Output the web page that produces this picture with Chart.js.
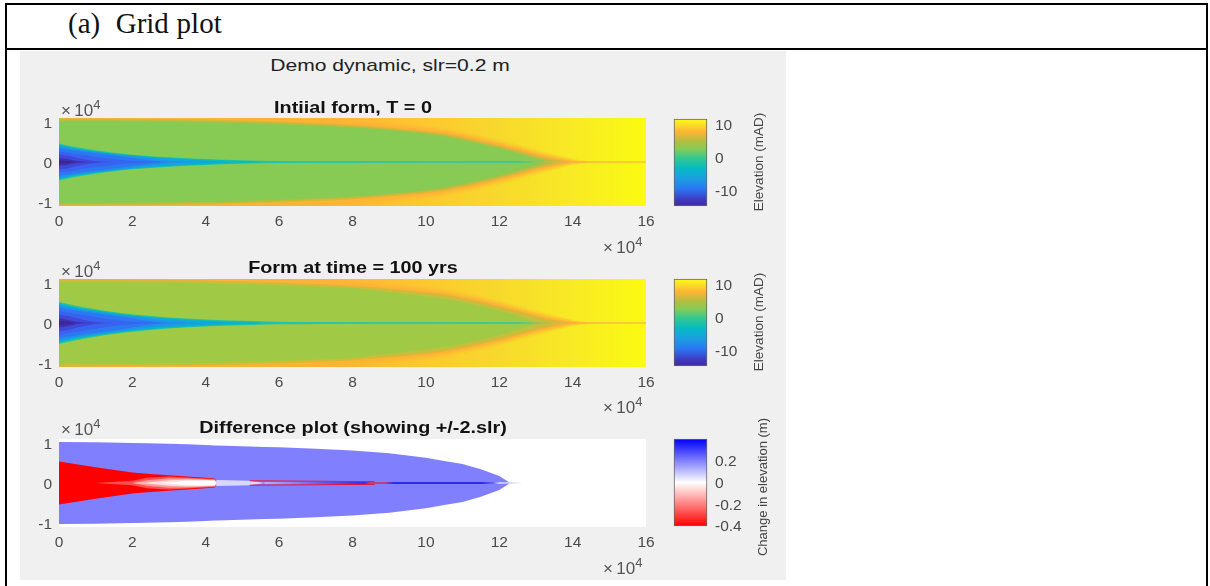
<!DOCTYPE html>
<html>
<head>
<meta charset="utf-8">
<title>Grid plot</title>
<script src="https://cdn.jsdelivr.net/npm/chart.js@4/dist/chart.umd.min.js"></script>
<style>
    html, body { margin: 0; background: #fff; overflow: hidden; }
    body { width: 1210px; height: 586px; position: relative; font-family: 'Liberation Sans', sans-serif; }
    .rule { position: absolute; background: #000; }
    .figure { position: absolute; left: 20px; top: 51px; width: 766px; height: 529px; background: #f0f0f0; }
    canvas { filter: blur(0.45px); }
    .holder { position: absolute; }
    .caption { position: absolute; left: 68px; top: 7px; font: 29px 'Liberation Serif', serif; word-spacing: .5px; color: #111; white-space: pre; }
    .main-title { position: absolute; left: 390px; top: 65.5px; font-size: 17px; color: #222; white-space: nowrap; transform: translate(-50%, -50%) scaleX(1.24); }
    .sub-title { position: absolute; left: 352.5px; font-size: 16.5px; font-weight: bold; color: #111; white-space: nowrap; transform: translate(-50%, -50%) scaleX(1.2); }
    .exp { position: absolute; font-size: 17px; color: #555; white-space: nowrap; }
    .exp sup { font-size: 13px; line-height: 0; }
    .side { position: absolute; font-size: 13.5px; color: #444; white-space: nowrap; transform: translate(-50%, -50%) rotate(-90deg); }
</style>
</head>
<body>
<div class="rule" style="left:5px;top:3px;width:1202px;height:2px"></div>
<div class="rule" style="left:5px;top:48px;width:1202px;height:2px"></div>
<div class="rule" style="left:5px;top:3px;width:2px;height:583px"></div>
<div class="rule" style="left:1206px;top:3px;width:2px;height:583px"></div>
<div class="figure"></div>
<div class="caption">(a)  Grid plot</div>
<div class="main-title">Demo dynamic, slr=0.2 m</div>

<div class="holder" style="left:20px;top:98px;width:640px;height:134px"><canvas id="form0"></canvas></div>
<div class="holder" style="left:20px;top:259px;width:640px;height:134px"><canvas id="form100"></canvas></div>
<div class="holder" style="left:20px;top:419px;width:640px;height:134px"><canvas id="diff"></canvas></div>
<div class="holder" style="left:670px;top:113px;width:80px;height:99px"><canvas id="bar0"></canvas></div>
<div class="holder" style="left:670px;top:273px;width:80px;height:99px"><canvas id="bar100"></canvas></div>
<div class="holder" style="left:670px;top:433px;width:80px;height:99px"><canvas id="barDiff"></canvas></div>

<div class="sub-title" style="top:106.5px">Intiial form, T = 0</div>
<div class="sub-title" style="top:266.5px">Form at time = 100 yrs</div>
<div class="sub-title" style="top:427px">Difference plot (showing +/-2.slr)</div>

<div class="exp" style="left:61px;top:101px">&times;&#8201;10<sup>4</sup></div>
<div class="exp" style="left:603px;top:238px">&times;&#8201;10<sup>4</sup></div>
<div class="exp" style="left:61px;top:262px">&times;&#8201;10<sup>4</sup></div>
<div class="exp" style="left:603px;top:398px">&times;&#8201;10<sup>4</sup></div>
<div class="exp" style="left:61px;top:420px">&times;&#8201;10<sup>4</sup></div>
<div class="exp" style="left:603px;top:559px">&times;&#8201;10<sup>4</sup></div>
<div class="side" style="left:758px;top:162px">Elevation (mAD)</div>
<div class="side" style="left:758px;top:322px">Elevation (mAD)</div>
<div class="side" style="left:762px;top:487px;font-size:13px">Change in elevation (m)</div>

<script>
// stations along the estuary (x 10^4 m). half widths are read as a fraction of the half plot height
const channelX = [0, 0.25, 0.5, 1, 1.5, 2, 3, 4, 5, 6, 7, 8, 10, 12, 13.2];
const chan1 = [.42, .375, .335, .265, .21, .167, .106, .068, .04, .022, .013, .009, .007, .006, 0];
const chan2 = [.40, .355, .315, .25, .195, .155, .095, .055, .025, .006, 0, 0, 0, 0, 0];
const chan3 = [.38, .335, .295, .235, .185, .145, .08, .03, 0, 0, 0, 0, 0, 0, 0];
const chan4 = [.36, .32, .28, .225, .175, .13, .03, 0, 0, 0, 0, 0, 0, 0, 0];
const chan5 = [.31, .28, .25, .20, .15, .09, 0, 0, 0, 0, 0, 0, 0, 0, 0];
const chan6 = [.24, .21, .18, .12, .06, .02, 0, 0, 0, 0, 0, 0, 0, 0, 0];
const chan7 = [.17, .14, .09, .02, 0, 0, 0, 0, 0, 0, 0, 0, 0, 0, 0];
const chan8 = [.09, .06, .02, 0, 0, 0, 0, 0, 0, 0, 0, 0, 0, 0, 0];
const chan9 = [.04, .02, 0, 0, 0, 0, 0, 0, 0, 0, 0, 0, 0, 0, 0];

const lateChan1 = [.48, .43, .385, .31, .25, .20, .125, .08, .05, .03, .02, .013, .009, .007, 0];
const lateChan2 = [.455, .405, .36, .29, .23, .18, .11, .065, .034, .012, 0, 0, 0, 0, 0];
const lateChan3 = [.43, .38, .335, .27, .215, .165, .09, .04, .005, 0, 0, 0, 0, 0, 0];
const lateChan4 = [.40, .355, .315, .25, .195, .145, .04, 0, 0, 0, 0, 0, 0, 0, 0];
const lateChan5 = [.35, .31, .28, .22, .165, .10, 0, 0, 0, 0, 0, 0, 0, 0, 0];
const lateChan6 = [.27, .235, .20, .13, .07, .025, 0, 0, 0, 0, 0, 0, 0, 0, 0];
const lateChan7 = [.19, .16, .10, .025, 0, 0, 0, 0, 0, 0, 0, 0, 0, 0, 0];
const lateChan8 = [.10, .07, .025, 0, 0, 0, 0, 0, 0, 0, 0, 0, 0, 0, 0];
const lateChan9 = [.045, .025, 0, 0, 0, 0, 0, 0, 0, 0, 0, 0, 0, 0, 0];

const bankX = [0, 2, 4, 5, 6, 7, 8, 9, 10, 10.5, 11, 11.5, 12, 12.5, 13, 13.5, 14, 14.5, 15, 15.5, 16];
const bankA = [.93, .925, .905, .885, .86, .825, .785, .72, .64, .58, .50, .41, .31, .20, .08, 0, 0, 0, 0, 0, 0];
const lateBankA = [.93, .925, .905, .885, .86, .83, .795, .70, .60, .545, .47, .38, .27, .16, .03, 0, 0, 0, 0, 0, 0];
const bankB = [.96, .955, .935, .915, .89, .855, .815, .75, .67, .615, .535, .445, .345, .235, .12, .03, 0, 0, 0, 0, 0];
const bankC = [1, .985, .965, .945, .92, .885, .845, .78, .70, .645, .57, .48, .38, .27, .155, .06, .005, 0, 0, 0, 0];
const bankD = [1, 1, 1, .985, .96, .925, .885, .82, .74, .685, .61, .52, .42, .31, .195, .10, .02, 0, 0, 0, 0];
const bankE = [1, 1, 1, 1, 1, 1, .92, .86, .78, .725, .65, .56, .46, .35, .24, .14, .05, 0, 0, 0, 0];
const bankF = [1, 1, 1, 1, 1, 1, 1, .91, .83, .78, .70, .61, .51, .40, .29, .18, .08, .01, 0, 0, 0];
const bankBase = [1, 1, 1, 1, 1, 1, 1, 1, 1, 1, 1, 1, 1, 1, 1, 1, 1, 1, 1, 1, 1];

const diffX = [0, 1, 2, 2.4, 3, 3.5, 4, 4.25, 4.3, 5.2, 5.6, 6, 7, 8, 9, 10, 10.5, 11, 11.5, 12, 12.3, 16];
const diffBlue = [.93, .925, .91, .905, .89, .88, .865, .855, .855, .83, .82, .81, .78, .74, .675, .575, .50, .43, .31, .16, 0, 0];
const diffRed = [.49, .36, .24, .21, .175, .145, .12, .105, 0, 0, 0, 0, 0, 0, 0, 0, 0, 0, 0, 0, 0, 0];
const diffPink1 = [0, 0, .05, .12, .15, .125, .10, .09, 0, 0, 0, 0, 0, 0, 0, 0, 0, 0, 0, 0, 0, 0];
const diffPink2 = [0, 0, 0, .06, .11, .10, .085, .075, 0, 0, 0, 0, 0, 0, 0, 0, 0, 0, 0, 0, 0, 0];
const diffPink3 = [0, 0, 0, .01, .06, .08, .07, .06, 0, 0, 0, 0, 0, 0, 0, 0, 0, 0, 0, 0, 0, 0];
const diffWhite = [0, 0, 0, 0, .01, .05, .055, .045, 0, 0, 0, 0, 0, 0, 0, 0, 0, 0, 0, 0, 0, 0];
const diffPale = [0, 0, 0, 0, 0, 0, 0, 0, .07, .05, 0, 0, 0, 0, 0, 0, 0, 0, 0, 0, 0, 0];
const diffBase = [1, 1, 1, 1, 1, 1, 1, 1, 1, 1, 1, 1, 1, 1, 1, 1, 1, 1, 1, 1, 1, 1];

const channelLineX = [5.5, 16];
const channelLineY = [0, 0];
const diffLineX = [5.6, 12.6];
const diffLineY = [0, 0];
const redEdgeX = [5.2, 7, 8.6];
const redEdgeY = [.05, .04, .03];

const yTicks = [1, 0, -1];
const yLimit = 1.1;
const elevationTicks = [10, 0, -10];
const elevationRange = [-14.5, 11.8];
const changeTicks = [0.2, 0, -0.2, -0.4];
const changeRange = [-0.4, 0.4];

const channelColors = ['#3a2890', '#4030b0', '#4048d8', '#3862f0', '#2c78f2', '#2490ea', '#12a6dc', '#08bcc0', '#2cc49c'];
const elevationStops = [[0, '#fbfb14'], [.07, '#fbdc28'], [.146, '#ffb433'], [.26, '#b0bf40'], [.34, '#88cb55'],
    [.45, '#33c890'], [.57, '#05b9c4'], [.68, '#1ca0e0'], [.8, '#2a78f5'], [.93, '#4038c0'], [1, '#3b2a9c']];
const changeStops = [[0, '#0000ff'], [.5, '#ffffff'], [1, '#ff0000']];
const channelLineStops = [[0, '#10c0c0'], [.78, '#30c8a0'], [.83, '#c8b840'], [.875, '#ffb040'], [1, '#ffc040']];
const diffLineStops = [[.35, '#c0c0ff'], [.45, '#5050f0'], [.52, '#1818e8'], [.53, '#d03050'], [.555, '#d03050'],
    [.57, '#1010e0'], [.72, '#1010e0'], [.74, '#6060f0'], [.75, '#e0e0ff'], [.77, '#d0d0ff'], [.79, '#ffffff']];
// colour of the far field, runs along x only
const farFieldStops = [[0, '#c8b832'], [.25, '#dcb637'], [.375, '#f0b435'], [.5, '#ffb836'], [.625, '#fdc82f'],
    [.75, '#f7d92c'], [.875, '#f8ea24'], [1, '#fbfb12']];

const tickColor = '#4a4a4a';
const tickFont = { family: "'Liberation Sans'", size: 15.5 };

function gradient(chart, stops, horizontal) {
    const area = chart.chartArea;
    if (!area) return stops[0][1];
    const g = horizontal
        ? chart.ctx.createLinearGradient(area.left, 0, area.right, 0)
        : chart.ctx.createLinearGradient(0, area.top, 0, area.bottom);
    stops.forEach(s => g.addColorStop(s[0], s[1]));
    return g;
}

function points(xs, ys, sign) {
    return xs.map((x, i) => ({ x: x, y: sign * ys[i] * yLimit }));
}

// each level is a pair of lines, +w and -w, filled between them. first one is on top
function levelDatasets(xs, levels, colors, mode) {
    const out = [];
    levels.forEach((w, i) => {
        const common = { pointRadius: 0, borderWidth: 0, cubicInterpolationMode: mode, tension: 0 };
        out.push({ ...common, data: points(xs, w, 1), fill: '+1', backgroundColor: colors[i] });
        out.push({ ...common, data: points(xs, w, -1), fill: false });
    });
    return out;
}

function lineDataset(xs, ys, color, width) {
    return { data: points(xs, ys, 1), borderColor: color, borderWidth: width, pointRadius: 0, fill: false, tension: 0 };
}

function noPadding(s) {
    s.paddingTop = 0;
    s.paddingBottom = 0;
    s.paddingLeft = 0;
    s.paddingRight = 0;
}

function panelChart(id, datasets) {
    return new Chart(document.getElementById(id), {
        type: 'line',
        data: { datasets: datasets },
        options: {
            responsive: true,
            maintainAspectRatio: false,
            animation: false,
            layout: { padding: { top: 20, right: 14 } },
            plugins: { legend: { display: false }, tooltip: { enabled: false } },
            scales: {
                x: {
                    type: 'linear', min: 0, max: 16,
                    grid: { display: false, drawTicks: false }, border: { display: false },
                    ticks: { stepSize: 2, color: tickColor, font: tickFont, maxRotation: 0, padding: 6 },
                    afterFit: s => { s.height = 26; noPadding(s); }
                },
                y: {
                    type: 'linear', min: -yLimit, max: yLimit,
                    grid: { display: false, drawTicks: false }, border: { display: false },
                    afterBuildTicks: s => { s.ticks = yTicks.map(v => ({ value: v })); },
                    ticks: { color: tickColor, font: tickFont, padding: 7, labelOffset: 2, callback: v => String(v) },
                    afterFit: s => { s.width = 39; noPadding(s); }
                }
            }
        }
    });
}

function colorBar(id, range, ticks, stops) {
    return new Chart(document.getElementById(id), {
        type: 'bar',
        data: {
            labels: [''],
            datasets: [{
                data: [range],
                backgroundColor: c => gradient(c.chart, stops, false),
                borderColor: '#666',
                borderWidth: 1,
                borderSkipped: false,
                categoryPercentage: 1,
                barPercentage: 1,
                clip: false
            }]
        },
        options: {
            responsive: true,
            maintainAspectRatio: false,
            animation: false,
            layout: { padding: { left: 4, top: 6, bottom: 6 } },
            plugins: { legend: { display: false }, tooltip: { enabled: false } },
            scales: {
                x: { display: false },
                y: {
                    position: 'right', min: range[0], max: range[1],
                    grid: { display: false, drawTicks: false }, border: { display: false },
                    afterBuildTicks: s => { s.ticks = ticks.map(v => ({ value: v })); },
                    ticks: { color: tickColor, font: tickFont, padding: 8, labelOffset: 1, callback: v => String(v) },
                    afterFit: s => { s.width = 43; noPadding(s); }
                }
            }
        }
    });
}

const farField = c => gradient(c.chart, farFieldStops, true);
const bankColors = ['#87cb55', '#b5be40', '#dcb637', '#feb236', 'rgba(255,178,54,.5)', 'rgba(255,178,54,.22)', farField];
const lateBankColors = ['#a0c946', '#c4c03c', '#dcb637', '#feb236', 'rgba(255,178,54,.5)', 'rgba(255,178,54,.22)', farField];

const centreColor = c => gradient(c.chart, channelLineStops, true);

const form0Sets = [lineDataset(channelLineX, channelLineY, centreColor, 1.4)]
    .concat(levelDatasets(channelX, [chan9, chan8, chan7, chan6, chan5, chan4, chan3, chan2, chan1], channelColors, 'monotone'))
    .concat(levelDatasets(bankX, [bankA, bankB, bankC, bankD, bankE, bankF, bankBase], bankColors, 'monotone'));

const form100Sets = [lineDataset(channelLineX, channelLineY, centreColor, 1.4)]
    .concat(levelDatasets(channelX, [lateChan9, lateChan8, lateChan7, lateChan6, lateChan5, lateChan4, lateChan3, lateChan2, lateChan1], channelColors, 'monotone'))
    .concat(levelDatasets(bankX, [lateBankA, bankB, bankC, bankD, bankE, bankF, bankBase], lateBankColors, 'monotone'));

const diffSets = [
    lineDataset(diffLineX, diffLineY, c => gradient(c.chart, diffLineStops, true), 1.5),
    lineDataset(redEdgeX, redEdgeY, '#f01030', 1),
    lineDataset(redEdgeX, redEdgeY.map(v => -v), '#f01030', 1)
].concat(levelDatasets(diffX,
    [diffWhite, diffPink3, diffPink2, diffPink1, diffPale, diffRed, diffBlue, diffBase],
    ['#ffffff', '#ffdcdc', '#ff9c9c', '#ff5050', '#d8d8ff', '#ff0000', '#8080ff', '#ffffff'], 'default'));

panelChart('form0', form0Sets);
panelChart('form100', form100Sets);
panelChart('diff', diffSets);
colorBar('bar0', elevationRange, elevationTicks, elevationStops);
colorBar('bar100', elevationRange, elevationTicks, elevationStops);
colorBar('barDiff', changeRange, changeTicks, changeStops);
</script>
</body>
</html>
